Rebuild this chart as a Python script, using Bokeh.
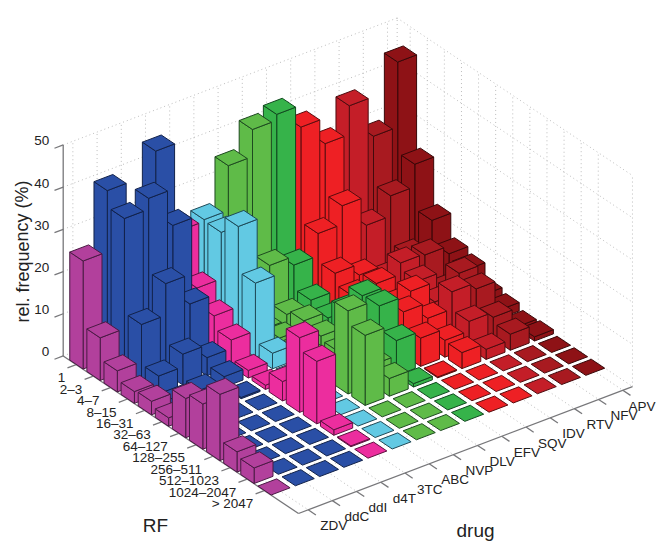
from bokeh.plotting import figure
from bokeh.models import Range1d
from bokeh.core.properties import value
from bokeh.embed import file_html
from bokeh.resources import INLINE

RF_LABELS = ["1", "2\u20133", "4\u20137", "8\u201315", "16\u201331", "32\u201363", "64\u2013127",
             "128\u2013255", "256\u2013511", "512\u20131023", "1024\u20132047", "> 2047"]
DRUGS = ["ZDV", "ddC", "ddI", "d4T", "3TC", "ABC", "NVP", "DLV", "EFV", "SQV", "IDV", "RTV", "NFV", "APV"]
Z_TICKS = [0, 10, 20, 30, 40, 50]

ZDV = [25.6, 10.1, 5.0, 2.8, 3.2, 2.0, 9.3, 10.7, 15.7, 4.8, 3.7, 0]
ddC = [40.1, 36.2, 13.8, 4.3, 1.0, 0.3, 0.2, 0, 0, 0, 0, 0]
ddI = [29.0, 38.8, 21.3, 7.3, 1.5, 0.3, 0, 0, 0, 0, 0, 0]
d4T = [45.1, 30.2, 14.3, 4.3, 2.5, 0.3, 0, 0, 0, 0, 0, 0]
TC3 = [24.1, 13.2, 9.3, 6.3, 1.8, 1.0, 4.6, 17.7, 14.8, 1.3, 0.2, 0]
ABC = [24.5, 24.2, 28.3, 17.6, 3.7, 0.6, 0.2, 0, 0, 0, 0, 0]
NVP = [35.1, 5.2, 1.7, 2.4, 2.4, 2.5, 1.6, 19.7, 16.6, 0, 0, 0]
DLV = [41.5, 12.0, 3.1, 4.3, 3.4, 2.5, 1.6, 4.7, 4.2, 0, 0, 0]
EFV = [42.9, 9.9, 4.3, 2.8, 7.4, 13.5, 13.8, 8.3, 0.8, 0, 0, 0]
SQV = [37.7, 15.2, 8.5, 5.9, 2.4, 4.5, 10.2, 6.7, 0.2, 0, 0, 0]
IDV = [31.6, 19.6, 5.9, 6.6, 4.4, 10.2, 6.5, 4.0, 3.8, 0, 0, 0]
RTV = [38.4, 12.8, 3.1, 9.3, 7.7, 5.5, 10.6, 6.3, 2.4, 0, 0, 0]
NFV = [29.0, 17.6, 6.3, 9.0, 3.4, 10.1, 9.1, 5.1, 3.8, 0, 0, 0]
APV = [44.4, 22.9, 12.3, 7.1, 6.0, 2.8, 2.0, 0.7, 1.0, 0, 0, 0]
SERIES = [ZDV, ddC, ddI, d4T, TC3, ABC, NVP, DLV, EFV, SQV, IDV, RTV, NFV, APV]

COLORS = ["#B2409C", "#2A4FA6", "#2A4FA6", "#2A4FA6", "#EC2D9E", "#62C9E3", "#5FBB48", "#5FBB48",
          "#36B34A", "#EE2024", "#EE2024", "#C41E28", "#A81A20", "#8E1216"]
EDGES = ["#4A1A44", "#12224A", "#12224A", "#12224A", "#5E1240", "#1E4A58", "#1E4A20", "#1E4A20",
         "#10481E", "#5A0C0E", "#5A0C0E", "#4E0C10", "#420A0C", "#380708"]

# parallel projection: value -> reference pixel
UR = (17.1, 11.45)    # one RF class
UD = (24.2, -9.2)     # one drug
UZ = -4.22            # one percent
R_LIM = (0.24, 14.0)
D_LIM = (0.6, 14.4)
OX = 298 - 14.0 * UR[0] - 0.6 * UD[0]
OY = 513 - 14.0 * UR[1] - 0.6 * UD[1]


def proj(r, d, z=0.0):
    return OX + r * UR[0] + d * UD[0], OY + r * UR[1] + d * UD[1] + z * UZ


W = 0.39
xs, ys, fills, lines = [], [], [], []


def face(points, fill, edge):
    pts = [proj(*q) for q in points]
    xs.append([q[0] for q in pts])
    ys.append([q[1] for q in pts])
    fills.append(fill)
    lines.append(edge)


for ri in range(len(RF_LABELS)):
    for di in range(len(DRUGS) - 1, -1, -1):
        r, d, z = ri + 1, di + 1, SERIES[di][ri]
        c, e = COLORS[di], EDGES[di]
        if z > 0:
            face([(r + W, d - W, 0), (r + W, d + W, 0), (r + W, d + W, z), (r + W, d - W, z)], c, e)
            face([(r - W, d - W, 0), (r + W, d - W, 0), (r + W, d - W, z), (r - W, d - W, z)], c, e)
        face([(r - W, d - W, z), (r + W, d - W, z), (r + W, d + W, z), (r - W, d + W, z)], c, e)

p = figure(width=657, height=541, output_backend="svg", toolbar_location=None,
           x_range=Range1d(0, 657), y_range=Range1d(541, 0), min_border=0,
           outline_line_color=None, border_fill_color="white", background_fill_color="white")
p.xaxis.visible = False
p.yaxis.visible = False
p.grid.visible = False

# dotted box grid
gx, gy = [], []


def seg(a, b):
    pa, pb = proj(*a), proj(*b)
    gx.append([pa[0], pb[0]])
    gy.append([pa[1], pb[1]])


r0, r1 = R_LIM
d0, d1 = D_LIM
zt = Z_TICKS[-1]
for z in Z_TICKS:
    seg((r0, d0, z), (r0, d1, z))
    seg((r0, d1, z), (r1, d1, z))
for i in range(len(DRUGS)):
    seg((r0, i + 1, 0), (r0, i + 1, zt))
    seg((r0, i + 1, 0), (r1, i + 1, 0))
for i in range(len(RF_LABELS)):
    seg((i + 1, d1, 0), (i + 1, d1, zt))
    seg((i + 1, d0, 0), (i + 1, d1, 0))
seg((r0, d1, 0), (r0, d1, zt))
seg((r1, d1, 0), (r1, d1, zt))
p.multi_line(gx, gy, line_color="#bcbcbc", line_dash="1 3", line_width=1)

# axes and ticks
ax, ay = [], []


def axseg(a, b):
    pa, pb = proj(*a), proj(*b)
    ax.append([pa[0], pb[0]])
    ay.append([pa[1], pb[1]])


axseg((r0, d0, 0), (r1, d0, 0))
axseg((r1, d0, 0), (r1, d1, 0))
axseg((r0, d0, 0), (r0, d0, zt))
for i in range(len(RF_LABELS)):
    axseg((i + 1, d0, 0), (i + 1, d0 - 0.36, 0))
for i in range(len(DRUGS)):
    axseg((r1, i + 1, 0), (r1 + 0.45, i + 1, 0))
for z in Z_TICKS:
    axseg((r0, d0, z), (r0, d0 - 0.36, z))
p.multi_line(ax, ay, line_color="#77777a", line_width=1.3)

p.patches(xs, ys, fill_color=fills, line_color=lines, line_width=1)

FONT = value("Liberation Sans")
TXT = "#222222"

# tick labels placed from the projection
rx, ry = zip(*[proj(i + 1, d0, 0) for i in range(len(RF_LABELS))])
p.text([x - 11 for x in rx], [y + 13 for y in ry], text=RF_LABELS, text_font=FONT,
       text_font_size="13.5px", text_align="right", text_baseline="middle", text_color=TXT)
dx, dy = zip(*[proj(r1, i + 1, 0) for i in range(len(DRUGS))])
p.text([min(x + 12, 628) for x in dx], [y + 16 for y in dy], text=DRUGS, text_font=FONT,
       text_font_size="13.5px", text_align="left", text_baseline="middle", text_color=TXT)
zx, zy = zip(*[proj(r0, d0, z) for z in Z_TICKS])
p.text([x - 14 for x in zx], [y - 4 for y in zy], text=[str(z) for z in Z_TICKS], text_font=FONT,
       text_font_size="13.5px", text_align="right", text_baseline="middle", text_color=TXT)

p.text([22], [251], text=["rel. frequency (%)"], angle=1.5708, text_font=FONT, text_font_size="18px",
       text_align="center", text_baseline="middle", text_color=TXT)
p.text([155], [525], text=["RF"], text_font=FONT, text_font_size="19px",
       text_align="center", text_baseline="middle", text_color=TXT)
p.text([475], [530], text=["drug"], text_font=FONT, text_font_size="19px",
       text_align="center", text_baseline="middle", text_color=TXT)

open("out.html", "w").write(file_html(p, INLINE))
